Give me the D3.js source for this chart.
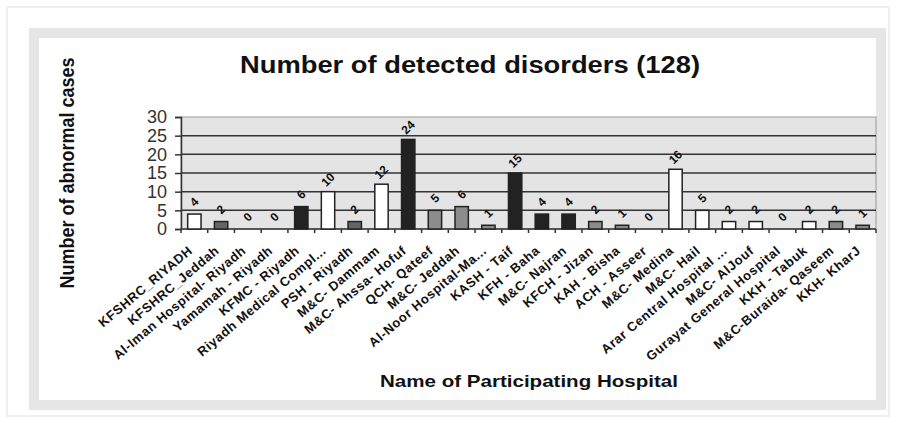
<!DOCTYPE html>
<html lang="en">
<head>
    <meta charset="UTF-8">
    <title>Number of detected disorders</title>
    <script src="https://d3js.org/d3.v7.min.js"></script>
    <style>
        body { margin: 0; background: #fff; }
        text { font-family: "Liberation Sans", Arial, sans-serif; }
    </style>
</head>
<body>
    <script>
    // data
    var hospitals = [
        "KFSHRC_RIYADH", "KFSHRC_Jeddah", "Al-Iman Hospital- Riyadh", "Yamamah - Riyadh",
        "KFMC - Riyadh", "Riyadh Medical Compl...", "PSH - Riyadh", "M&C- Dammam",
        "M&C- Ahssa- Hofuf", "QCH- Qateef", "M&C- Jeddah", "Al-Noor Hospital-Ma...",
        "KASH - Taif", "KFH - Baha", "M&C- Najran", "KFCH - Jizan", "KAH - Bisha",
        "ACH - Asseer", "M&C- Medina", "M&C- Hail", "Arar Central Hospital ...",
        "M&C- AlJouf", "Gurayat General Hospital", "KKH - Tabuk", "M&C-Buraida- Qaseem",
        "KKH- KharJ"
    ];
    var cases = [4, 2, 0, 0, 6, 10, 2, 12, 24, 5, 6, 1, 15, 4, 4, 2, 1, 0, 16, 5, 2, 2, 0, 2, 2, 1];
    // shading group of each bar in the original
    var groups = ["A", "B", "A", "A", "C", "A", "B", "A", "C", "D", "D", "D", "C", "C", "C",
                  "D", "D", "A", "A", "A", "A", "A", "A", "A", "D", "D"];
    var yTicks = [0, 5, 10, 15, 20, 25, 30];

    var width = 899, height = 429;
    var svg = d3.select("body").append("svg")
        .attr("width", width)
        .attr("height", height);

    // outer faint frame + grey border
    svg.append("rect").attr("x", 7).attr("y", 7).attr("width", 882).attr("height", 409)
        .attr("fill", "none").attr("stroke", "#f0f0f0").attr("stroke-width", 2);
    svg.append("rect").attr("x", 34).attr("y", 33).attr("width", 847).attr("height", 372)
        .attr("fill", "#fff").attr("stroke", "#e6e6e6").attr("stroke-width", 10);

    var plotLeft = 181, plotRight = 876, plotTop = 117, plotBottom = 229;

    var x = d3.scaleBand()
        .domain(hospitals)
        .range([plotLeft, plotRight])
        .paddingInner(0.5)
        .paddingOuter(0.25);
    var y = d3.scaleLinear().domain([0, 30]).range([plotBottom, plotTop]);
    var fill = d3.scaleOrdinal().domain(["A", "B", "C", "D"])
        .range(["#ffffff", "#666666", "#222222", "#8c8c8c"]);

    // plot area
    svg.append("rect")
        .attr("x", plotLeft).attr("y", plotTop)
        .attr("width", plotRight - plotLeft).attr("height", plotBottom - plotTop)
        .attr("fill", "#e4e4e4").attr("stroke", "#9a9a9a");

    // gridlines
    svg.selectAll(".grid")
        .data(yTicks.filter(function(d){ return d > 0 && d < 30; }))
        .enter().append("line")
        .attr("x1", plotLeft).attr("x2", plotRight)
        .attr("y1", function(d){ return y(d); })
        .attr("y2", function(d){ return y(d); })
        .attr("stroke", "#333").attr("stroke-width", 1.5);

    // y axis
    var yAxis = svg.append("g")
        .attr("transform", "translate(" + plotLeft + ",0)")
        .call(d3.axisLeft(y).tickValues(yTicks).tickSize(6).tickPadding(8));
    yAxis.select(".domain").attr("stroke", "#333").attr("stroke-width", 1.5);
    yAxis.selectAll(".tick line").attr("stroke", "#333").attr("stroke-width", 1.5);
    yAxis.selectAll("text")
        .attr("font-size", 18).attr("fill", "#333")
        .style("font-family", "'Liberation Sans', Arial, sans-serif");

    // x axis line and ticks at category boundaries
    svg.append("line")
        .attr("x1", plotLeft).attr("x2", plotRight)
        .attr("y1", plotBottom).attr("y2", plotBottom)
        .attr("stroke", "#333").attr("stroke-width", 1.5);
    var step = x.step();
    var firstEdge = x(hospitals[0]) - x.bandwidth() / 2;
    svg.selectAll(".xtick")
        .data(d3.range(hospitals.length + 1))
        .enter().append("line")
        .attr("x1", function(i){ return firstEdge + i * step; })
        .attr("x2", function(i){ return firstEdge + i * step; })
        .attr("y1", plotBottom).attr("y2", plotBottom + 4)
        .attr("stroke", "#333").attr("stroke-width", 1.5);

    // bars
    svg.selectAll(".bar")
        .data(cases)
        .enter().append("rect")
        .attr("x", function(d, i){ return x(hospitals[i]); })
        .attr("y", function(d){ return y(d); })
        .attr("width", x.bandwidth())
        .attr("height", function(d){ return y(0) - y(d); })
        .attr("fill", function(d, i){ return fill(groups[i]); })
        .attr("stroke", "#222").attr("stroke-width", 1.5);

    // value labels
    svg.selectAll(".val")
        .data(cases)
        .enter().append("text")
        .attr("transform", function(d, i){
            return "translate(" + (x(hospitals[i]) + x.bandwidth() / 2) + "," + (y(d) - 12) + ") rotate(-45)";
        })
        .attr("text-anchor", "middle")
        .attr("dominant-baseline", "central")
        .attr("font-size", 12).attr("font-weight", "bold").attr("fill", "#111")
        .text(function(d){ return d; });

    // category labels
    svg.selectAll(".cat")
        .data(hospitals)
        .enter().append("text")
        .attr("transform", function(d){
            return "translate(" + (x(d) + x.bandwidth() / 2 - 1) + "," + 252 + ") rotate(-40)";
        })
        .attr("text-anchor", "end")
        .attr("font-size", 13).attr("font-weight", "bold").attr("fill", "#111")
        .attr("letter-spacing", 0.6)
        .text(function(d){ return d; });

    // titles
    svg.append("text")
        .attr("x", 470).attr("y", 73)
        .attr("text-anchor", "middle")
        .attr("font-size", 23).attr("font-weight", "bold").attr("fill", "#111")
        .attr("textLength", 460).attr("lengthAdjust", "spacingAndGlyphs")
        .text("Number of detected disorders (128)");

    svg.append("text")
        .attr("x", 529).attr("y", 387)
        .attr("text-anchor", "middle")
        .attr("font-size", 17).attr("font-weight", "bold").attr("fill", "#111")
        .attr("textLength", 298).attr("lengthAdjust", "spacingAndGlyphs")
        .text("Name of Participating Hospital");

    svg.append("text")
        .attr("transform", "translate(74,173) scale(1.15,1) rotate(-90)")
        .attr("text-anchor", "middle")
        .attr("font-size", 18).attr("font-weight", "bold").attr("fill", "#111")
        .text("Number of abnormal cases");
    </script>
</body>
</html>
